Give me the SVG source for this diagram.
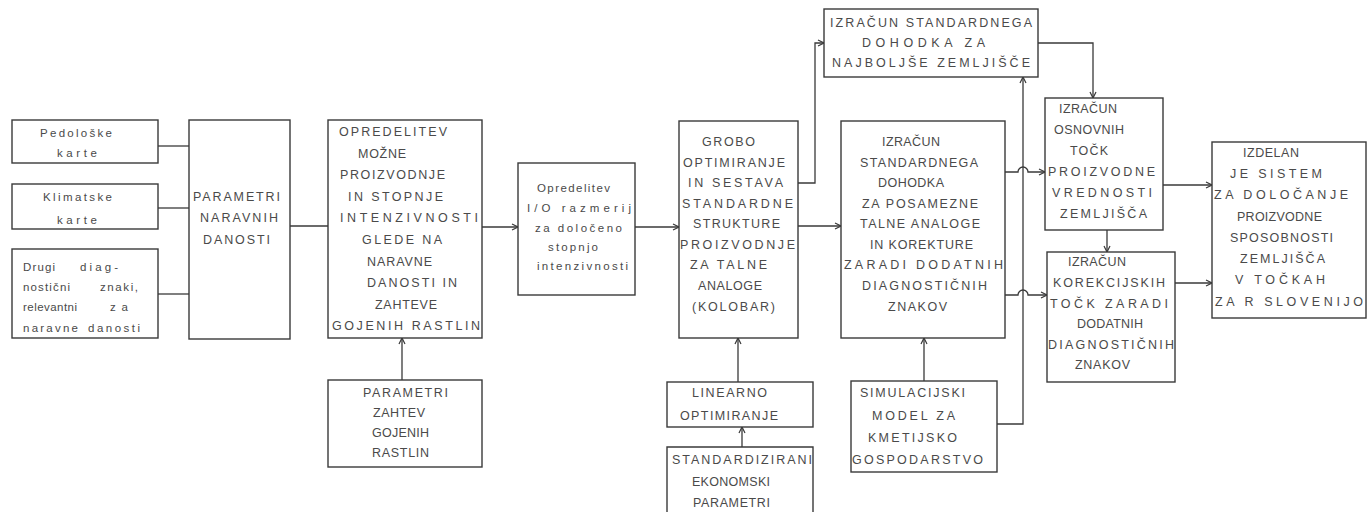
<svg xmlns="http://www.w3.org/2000/svg" width="1368" height="512" viewBox="0 0 1368 512">
<style>
.box{fill:#fff;stroke:#3a3a3a;stroke-width:1.4}
.t{font-family:"Liberation Sans",Arial,sans-serif;font-size:12.5px;fill:#4a4a4a}
.s{font-family:"Liberation Sans",Arial,sans-serif;font-size:11.5px;fill:#4a4a4a}
.c{fill:none;stroke:#3a3a3a;stroke-width:1.3}
</style>
<defs>
<marker id="ar" markerWidth="8" markerHeight="8" refX="7" refY="4" orient="auto" markerUnits="userSpaceOnUse">
<path d="M1,1 L7,4 L1,7" fill="none" stroke="#3a3a3a" stroke-width="1.2"/>
</marker>
</defs>
<rect width="1368" height="512" fill="#fff"/>

<g id="connectors">
<path class="c" d="M158,146 H189"/>
<path class="c" d="M158,208 H189"/>
<path class="c" d="M158,294 H189"/>
<path class="c" d="M290,226 H328"/>
<path class="c" d="M482,227 H518" marker-end="url(#ar)"/>
<path class="c" d="M402,380 V338" marker-end="url(#ar)"/>
<path class="c" d="M635,227 H679" marker-end="url(#ar)"/>
<path class="c" d="M798,226 H841" marker-end="url(#ar)"/>
<path class="c" d="M798,183 H815 V43 H824" marker-end="url(#ar)"/>
<path class="c" d="M738,382 V338" marker-end="url(#ar)"/>
<path class="c" d="M742,447 V427" marker-end="url(#ar)"/>
<path class="c" d="M924,381 V338" marker-end="url(#ar)"/>
<path class="c" d="M997,424 H1023 V77" marker-end="url(#ar)"/>
<path class="c" d="M1038,43 H1093 V98" marker-end="url(#ar)"/>
<path class="c" d="M1005,172 H1018 A5,5 0 0 1 1028,172 H1045" marker-end="url(#ar)"/>
<path class="c" d="M1005,295 H1018 A5,5 0 0 1 1028,295 H1047" marker-end="url(#ar)"/>
<path class="c" d="M1107,230 V252" marker-end="url(#ar)"/>
<path class="c" d="M1163,185 H1212" marker-end="url(#ar)"/>
<path class="c" d="M1175,283 H1212" marker-end="url(#ar)"/>
</g>

<g id="pedoloske">
<rect class="box" x="12" y="120" width="146" height="43"/>
<text class="s" x="40" y="137" textLength="72" lengthAdjust="spacing">Pedološke</text>
<text class="s" x="57" y="157" textLength="40" lengthAdjust="spacing">karte</text>
</g>

<g id="klimatske">
<rect class="box" x="12" y="184" width="146" height="45"/>
<text class="s" x="43" y="201" textLength="69" lengthAdjust="spacing">Klimatske</text>
<text class="s" x="57" y="224" textLength="40" lengthAdjust="spacing">karte</text>
</g>

<g id="drugi">
<rect class="box" x="12" y="249" width="146" height="89"/>
<text class="s" y="271"><tspan x="23" textLength="32" lengthAdjust="spacing">Drugi</tspan> <tspan x="80" textLength="38" lengthAdjust="spacing">diag-</tspan></text>
<text class="s" y="291"><tspan x="23" textLength="47" lengthAdjust="spacing">nostični</tspan> <tspan x="100" textLength="38" lengthAdjust="spacing">znaki,</tspan></text>
<text class="s" y="311"><tspan x="23" textLength="54" lengthAdjust="spacing">relevantni</tspan> <tspan x="110" textLength="18" lengthAdjust="spacing">za</tspan></text>
<text class="s" y="332"><tspan x="23" textLength="55" lengthAdjust="spacing">naravne</tspan> <tspan x="88" textLength="52" lengthAdjust="spacing">danosti</tspan></text>
</g>

<g id="parametri-naravnih">
<rect class="box" x="189" y="120" width="101" height="219"/>
<text class="t" x="193" y="201" textLength="87" lengthAdjust="spacing">PARAMETRI</text>
<text class="t" x="200" y="222" textLength="78" lengthAdjust="spacing">NARAVNIH</text>
<text class="t" x="203" y="244" textLength="67" lengthAdjust="spacing">DANOSTI</text>
</g>

<g id="opredelitev">
<rect class="box" x="328" y="120" width="154" height="218"/>
<text class="t" x="339" y="136" textLength="108" lengthAdjust="spacing">OPREDELITEV</text>
<text class="t" x="358" y="158" textLength="48" lengthAdjust="spacing">MOŽNE</text>
<text class="t" x="340" y="179" textLength="105" lengthAdjust="spacing">PROIZVODNJE</text>
<text class="t" x="348" y="201" textLength="95" lengthAdjust="spacing">IN STOPNJE</text>
<text class="t" x="340" y="222" textLength="138" lengthAdjust="spacing">INTENZIVNOSTI</text>
<text class="t" x="362" y="244" textLength="80" lengthAdjust="spacing">GLEDE NA</text>
<text class="t" x="367" y="266" textLength="65" lengthAdjust="spacing">NARAVNE</text>
<text class="t" x="367" y="287" textLength="90" lengthAdjust="spacing">DANOSTI IN</text>
<text class="t" x="375" y="309" textLength="62" lengthAdjust="spacing">ZAHTEVE</text>
<text class="t" x="332" y="330" textLength="148" lengthAdjust="spacing">GOJENIH RASTLIN</text>
</g>

<g id="parametri-zahtev">
<rect class="box" x="328" y="380" width="154" height="87"/>
<text class="t" x="363" y="397" textLength="85" lengthAdjust="spacing">PARAMETRI</text>
<text class="t" x="373" y="417" textLength="52" lengthAdjust="spacing">ZAHTEV</text>
<text class="t" x="372" y="437" textLength="57" lengthAdjust="spacing">GOJENIH</text>
<text class="t" x="372" y="457" textLength="57" lengthAdjust="spacing">RASTLIN</text>
</g>

<g id="io-razmerja">
<rect class="box" x="518" y="163" width="117" height="132"/>
<text class="s" x="537" y="192" textLength="73" lengthAdjust="spacing">Opredelitev</text>
<text class="s" x="527" y="212" textLength="104" lengthAdjust="spacing">I/O razmerij</text>
<text class="s" x="535" y="232" textLength="87" lengthAdjust="spacing">za določeno</text>
<text class="s" x="548" y="251" textLength="50" lengthAdjust="spacing">stopnjo</text>
<text class="s" x="537" y="270" textLength="91" lengthAdjust="spacing">intenzivnosti</text>
</g>

<g id="grobo">
<rect class="box" x="679" y="121" width="119" height="217"/>
<text class="t" x="702" y="146" textLength="53" lengthAdjust="spacing">GROBO</text>
<text class="t" x="683" y="167" textLength="102" lengthAdjust="spacing">OPTIMIRANJE</text>
<text class="t" x="688" y="187" textLength="95" lengthAdjust="spacing">IN SESTAVA</text>
<text class="t" x="682" y="208" textLength="111" lengthAdjust="spacing">STANDARDNE</text>
<text class="t" x="693" y="228" textLength="87" lengthAdjust="spacing">STRUKTURE</text>
<text class="t" x="680" y="249" textLength="115" lengthAdjust="spacing">PROIZVODNJE</text>
<text class="t" x="690" y="269" textLength="77" lengthAdjust="spacing">ZA TALNE</text>
<text class="t" x="698" y="290" textLength="64" lengthAdjust="spacing">ANALOGE</text>
<text class="t" x="692" y="311" textLength="83" lengthAdjust="spacing">(KOLOBAR)</text>
</g>

<g id="linearno">
<rect class="box" x="667" y="382" width="146" height="45"/>
<text class="t" x="692" y="397" textLength="75" lengthAdjust="spacing">LINEARNO</text>
<text class="t" x="680" y="420" textLength="98" lengthAdjust="spacing">OPTIMIRANJE</text>
</g>

<g id="standardizirani">
<path class="box" d="M667,513 V447 H813 V513"/>
<text class="t" x="672" y="464" textLength="140" lengthAdjust="spacing">STANDARDIZIRANI</text>
<text class="t" x="692" y="486" textLength="78" lengthAdjust="spacing">EKONOMSKI</text>
<text class="t" x="693" y="507" textLength="77" lengthAdjust="spacing">PARAMETRI</text>
</g>

<g id="izracun-dohodka">
<rect class="box" x="841" y="121" width="164" height="217"/>
<text class="t" x="882" y="146" textLength="58" lengthAdjust="spacing">IZRAČUN</text>
<text class="t" x="860" y="167" textLength="118" lengthAdjust="spacing">STANDARDNEGA</text>
<text class="t" x="878" y="187" textLength="66" lengthAdjust="spacing">DOHODKA</text>
<text class="t" x="862" y="208" textLength="116" lengthAdjust="spacing">ZA POSAMEZNE</text>
<text class="t" x="860" y="228" textLength="120" lengthAdjust="spacing">TALNE ANALOGE</text>
<text class="t" x="870" y="249" textLength="103" lengthAdjust="spacing">IN KOREKTURE</text>
<text class="t" x="844" y="269" textLength="159" lengthAdjust="spacing">ZARADI DODATNIH</text>
<text class="t" x="862" y="290" textLength="125" lengthAdjust="spacing">DIAGNOSTIČNIH</text>
<text class="t" x="888" y="311" textLength="59" lengthAdjust="spacing">ZNAKOV</text>
</g>

<g id="simulacijski">
<rect class="box" x="851" y="381" width="146" height="91"/>
<text class="t" x="860" y="397" textLength="105" lengthAdjust="spacing">SIMULACIJSKI</text>
<text class="t" x="872" y="420" textLength="83" lengthAdjust="spacing">MODEL ZA</text>
<text class="t" x="868" y="442" textLength="89" lengthAdjust="spacing">KMETIJSKO</text>
<text class="t" x="852" y="464" textLength="131" lengthAdjust="spacing">GOSPODARSTVO</text>
</g>

<g id="najboljse">
<rect class="box" x="824" y="9" width="214" height="68"/>
<text class="t" x="830" y="27" textLength="202" lengthAdjust="spacing">IZRAČUN STANDARDNEGA</text>
<text class="t" x="862" y="47" textLength="123" lengthAdjust="spacing">DOHODKA ZA</text>
<text class="t" x="832" y="67" textLength="198" lengthAdjust="spacing">NAJBOLJŠE ZEMLJIŠČE</text>
</g>

<g id="osnovne-tocke">
<rect class="box" x="1045" y="98" width="118" height="132"/>
<text class="t" x="1059" y="113" textLength="58" lengthAdjust="spacing">IZRAČUN</text>
<text class="t" x="1054" y="134" textLength="70" lengthAdjust="spacing">OSNOVNIH</text>
<text class="t" x="1070" y="155" textLength="38" lengthAdjust="spacing">TOČK</text>
<text class="t" x="1048" y="176" textLength="107" lengthAdjust="spacing">PROIZVODNE</text>
<text class="t" x="1052" y="197" textLength="100" lengthAdjust="spacing">VREDNOSTI</text>
<text class="t" x="1060" y="218" textLength="87" lengthAdjust="spacing">ZEMLJIŠČA</text>
</g>

<g id="korekcijske-tocke">
<rect class="box" x="1047" y="252" width="128" height="130"/>
<text class="t" x="1068" y="266" textLength="58" lengthAdjust="spacing">IZRAČUN</text>
<text class="t" x="1053" y="287" textLength="112" lengthAdjust="spacing">KOREKCIJSKIH</text>
<text class="t" x="1050" y="308" textLength="118" lengthAdjust="spacing">TOČK ZARADI</text>
<text class="t" x="1077" y="328" textLength="66" lengthAdjust="spacing">DODATNIH</text>
<text class="t" x="1048" y="349" textLength="126" lengthAdjust="spacing">DIAGNOSTIČNIH</text>
<text class="t" x="1075" y="369" textLength="55" lengthAdjust="spacing">ZNAKOV</text>
</g>

<g id="izdelan">
<rect class="box" x="1212" y="142" width="154" height="176"/>
<text class="t" x="1243" y="157" textLength="56" lengthAdjust="spacing">IZDELAN</text>
<text class="t" x="1230" y="178" textLength="92" lengthAdjust="spacing">JE SISTEM</text>
<text class="t" x="1214" y="199" textLength="134" lengthAdjust="spacing">ZA DOLOČANJE</text>
<text class="t" x="1237" y="221" textLength="85" lengthAdjust="spacing">PROIZVODNE</text>
<text class="t" x="1230" y="242" textLength="103" lengthAdjust="spacing">SPOSOBNOSTI</text>
<text class="t" x="1240" y="263" textLength="85" lengthAdjust="spacing">ZEMLJIŠČA</text>
<text class="t" x="1235" y="284" textLength="90" lengthAdjust="spacing">V TOČKAH</text>
<text class="t" x="1215" y="306" textLength="148" lengthAdjust="spacing">ZA R SLOVENIJO</text>
</g>
</svg>
